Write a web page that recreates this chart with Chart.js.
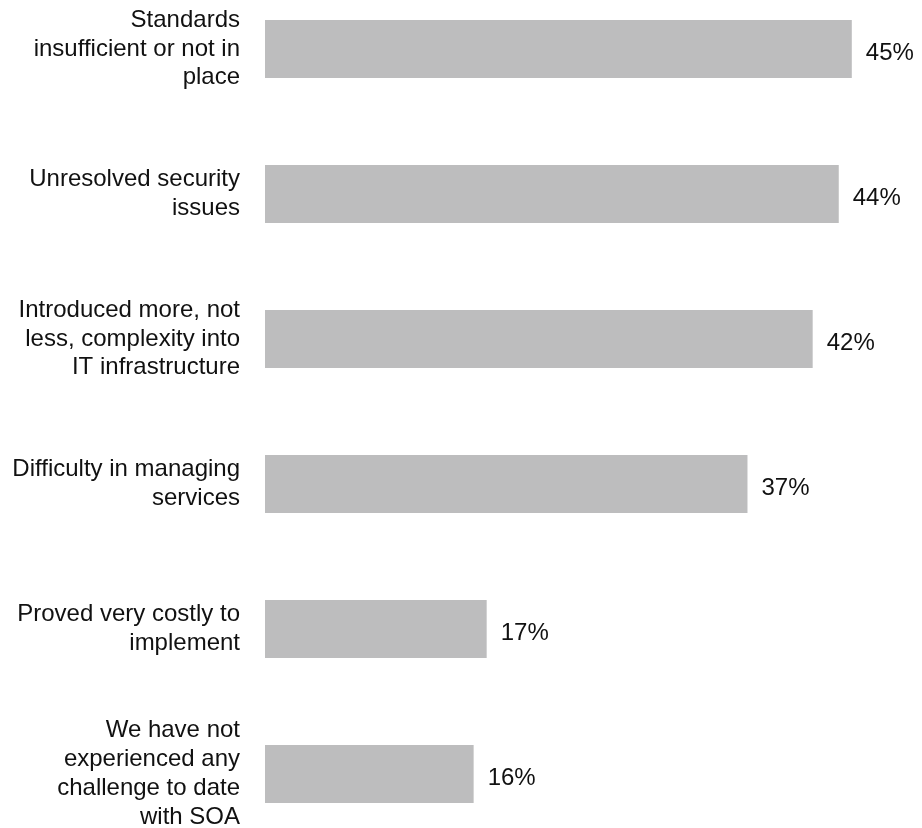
<!DOCTYPE html>
<html>
<head>
<meta charset="utf-8">
<script src="https://cdn.jsdelivr.net/npm/chart.js@4/dist/chart.umd.min.js"></script>
<style>
  html, body { margin: 0; padding: 0; background: #ffffff; }
  #wrap { width: 922px; height: 828px; position: relative; }
</style>
</head>
<body>
<div id="wrap"><canvas id="chart" width="922" height="828"></canvas></div>
<script>
// Challenges reported with SOA adoption (share of respondents)
const categories = [
  ['Standards', 'insufficient or not in', 'place'],
  ['Unresolved security', 'issues'],
  ['Introduced more, not', 'less, complexity into', 'IT infrastructure'],
  ['Difficulty in managing', 'services'],
  ['Proved very costly to', 'implement'],
  ['We have not', 'experienced any', 'challenge to date', 'with SOA']
];
const shares = [45, 44, 42, 37, 17, 16];
const valueLabels = shares.map(v => v + '%');

const FONT = '"Liberation Sans", Arial, Helvetica, sans-serif';

// Writes the percentage just past the end of each bar
const valueLabelPlugin = {
  id: 'valueLabels',
  afterDatasetsDraw(chart) {
    const ctx = chart.ctx;
    const meta = chart.getDatasetMeta(0);
    ctx.save();
    ctx.font = '24px ' + FONT;
    ctx.fillStyle = '#111111';
    ctx.textAlign = 'left';
    ctx.textBaseline = 'middle';
    meta.data.forEach((bar, i) => {
      ctx.fillText(valueLabels[i], bar.x + 14, bar.y + 4);
    });
    ctx.restore();
  }
};

new Chart(document.getElementById('chart'), {
  type: 'bar',
  data: {
    labels: categories,
    datasets: [{
      data: shares,
      backgroundColor: '#bdbdbe',
      borderWidth: 0,
      clip: false,
      categoryPercentage: 0.5,
      barPercentage: 0.8
    }]
  },
  options: {
    indexAxis: 'y',
    responsive: false,
    animation: false,
    events: [],
    layout: { padding: { top: 49, bottom: 54, left: 0, right: 5 } },
    plugins: {
      legend: { display: false },
      tooltip: { enabled: false }
    },
    scales: {
      x: {
        display: false,
        min: 0,
        max: 50
      },
      y: {
        offset: false,
        grid: { display: false, drawTicks: false },
        border: { display: false },
        ticks: {
          color: '#111111',
          padding: 25,
          font: { family: FONT, size: 24, lineHeight: 1.2 }
        },
        afterFit(scale) {
          scale.width = 265;
          scale.paddingTop = 0;
          scale.paddingBottom = 0;
        }
      }
    }
  },
  plugins: [valueLabelPlugin]
});
</script>
</body>
</html>
